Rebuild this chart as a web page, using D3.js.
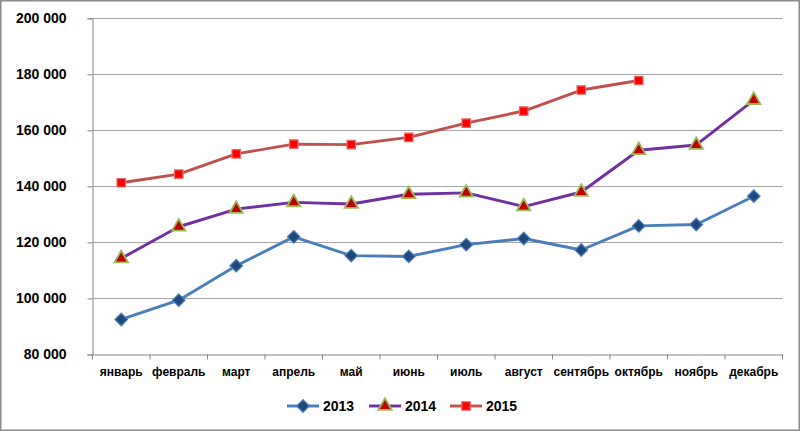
<!DOCTYPE html>
<html lang="ru">
<head>
<meta charset="UTF-8" />
<title>2013–2015</title>
<script src="https://d3js.org/d3.v7.min.js"></script>
<style>
  body { margin: 0; background: #fff; }
  svg { display: block; font-family: "Liberation Sans", Arial, sans-serif; font-weight: bold; }
  .grid line { stroke: #a6a6a6; stroke-width: 1px; }
</style>
</head>
<body>
<svg id="chart"></svg>
<script>
// ---- data ----
const months = ["январь", "февраль", "март", "апрель", "май", "июнь",
                "июль", "август", "сентябрь", "октябрь", "ноябрь", "декабрь"];
const yTicks = [80000, 100000, 120000, 140000, 160000, 180000, 200000];
const v2013 = [92500, 99400, 111700, 122000, 115300, 115000, 119200, 121400, 117300, 125900, 126400, 136500];
const v2014 = [114300, 125600, 131900, 134300, 133700, 137200, 137700, 132800, 138000, 152900, 154800, 170800];
const v2015 = [141300, 144400, 151600, 155100, 154900, 157500, 162600, 166900, 174400, 177800];

const series = [
  { name: "2013", values: v2013, line: "#4a7ebb", marker: "diamond", fill: "#1f497d", stroke: "#4a7ebb" },
  { name: "2014", values: v2014, line: "#7030a0", marker: "triangle", fill: "#c00000", stroke: "#9bbb59" },
  { name: "2015", values: v2015, line: "#c0504d", marker: "square", fill: "#ff0000", stroke: "#e46c6a" }
];

// ---- setup ----
const width = 800, height = 431;
const svg = d3.select("#chart").attr("width", width).attr("height", height);

const x = d3.scaleBand().domain(months).range([92.5, 782.5]).padding(0);
const y = d3.scaleLinear().domain([80000, 200000]).range([354.5, 18.3]);
const cx = d => x(d) + x.bandwidth() / 2;

const fmt = v => d3.format(",")(v).replace(/,/g, " ");

// outer frame
svg.append("rect")
  .attr("x", 0.75).attr("y", 0.75)
  .attr("width", width - 1.5).attr("height", height - 1.5)
  .attr("fill", "#fff").attr("stroke", "#8c8c8c").attr("stroke-width", 1.5);

// gridlines
svg.append("g").attr("class", "grid")
  .selectAll("line")
  .data(yTicks.slice(1))
  .join("line")
  .attr("x1", 92.5).attr("x2", 782.5)
  .attr("y1", d => Math.round(y(d)) + 0.5).attr("y2", d => Math.round(y(d)) + 0.5);

// y axis
const yAxis = svg.append("g")
  .attr("transform", "translate(92.5,0)")
  .call(d3.axisLeft(y).tickValues(yTicks).tickFormat(fmt).tickSize(5).tickPadding(21));
yAxis.select(".domain").attr("stroke", "#868686");
yAxis.selectAll(".tick line").attr("stroke", "#868686");
yAxis.selectAll("text").attr("fill", "#000").style("font-size", "14px").style("font-weight", "bold")
  .style("font-family", "'Liberation Sans', Arial, sans-serif");

// x axis
const xAxis = svg.append("g")
  .attr("transform", "translate(0,354.5)")
  .call(d3.axisBottom(x).tickSize(0).tickPadding(13));
xAxis.select(".domain").attr("stroke", "#868686");
xAxis.selectAll("text").attr("fill", "#000").style("font-size", "12px").style("font-weight", "bold")
  .style("font-family", "'Liberation Sans', Arial, sans-serif");
// category boundary ticks
xAxis.append("g").selectAll("line")
  .data(d3.range(months.length + 1))
  .join("line")
  .attr("x1", i => 92.5 + i * x.bandwidth()).attr("x2", i => 92.5 + i * x.bandwidth())
  .attr("y1", 0).attr("y2", 5)
  .attr("stroke", "#868686");

// marker shapes
function markerPath(type) {
  if (type === "diamond") return "M0,-6.3L6.3,0L0,6.3L-6.3,0Z";
  if (type === "triangle") return d3.symbol(d3.symbolTriangle, 78)();
  return d3.symbol(d3.symbolSquare, 72)();
}

// lines + markers
const line = d3.line().x((d, i) => cx(months[i])).y(d => y(d));
series.forEach(s => {
  svg.append("path")
    .datum(s.values)
    .attr("fill", "none")
    .attr("stroke", s.line)
    .attr("stroke-width", 2.9)
    .attr("stroke-linejoin", "round")
    .attr("d", line);

  svg.append("g").selectAll("path")
    .data(s.values)
    .join("path")
    .attr("transform", (d, i) => `translate(${cx(months[i])},${y(d)})`)
    .attr("d", markerPath(s.marker))
    .attr("fill", s.fill)
    .attr("stroke", s.stroke)
    .attr("stroke-width", s.marker === "triangle" ? 1.8 : 1.2);
});

// legend
const legendX = [287, 369, 450];
const legend = svg.append("g").attr("transform", "translate(0,406)");
series.forEach((s, i) => {
  const g = legend.append("g").attr("transform", `translate(${legendX[i]},0)`);
  g.append("line").attr("x1", 0).attr("x2", 32).attr("y1", 0).attr("y2", 0)
    .attr("stroke", s.line).attr("stroke-width", 2.9);
  g.append("path").attr("transform", "translate(16,0)")
    .attr("d", markerPath(s.marker))
    .attr("fill", s.fill).attr("stroke", s.stroke)
    .attr("stroke-width", s.marker === "triangle" ? 1.8 : 1.2);
  g.append("text").attr("x", 36).attr("y", 0).attr("dy", "0.36em")
    .style("font-size", "14px").attr("fill", "#000")
    .text(s.name);
});
</script>
</body>
</html>
